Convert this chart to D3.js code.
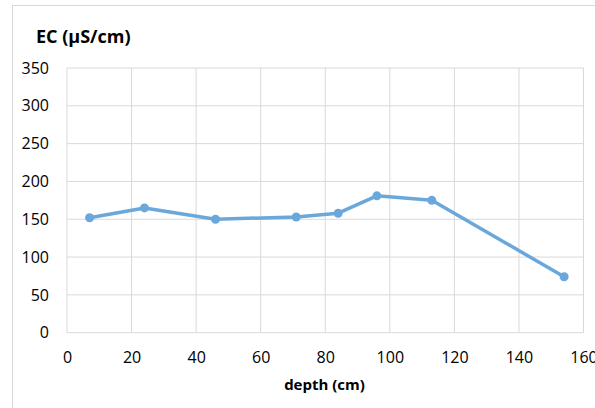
<!DOCTYPE html>
<html><head><meta charset="utf-8">
<script src="https://cdn.jsdelivr.net/npm/d3@7"></script>
<style>body{margin:0;background:#fff}svg{display:block}text{font-family:"Open Sans",Lato,sans-serif}</style>
</head><body><svg id="c" width="595" height="408"></svg>
<script>
const depth = [7, 24, 46, 71, 84, 96, 113, 154];
const ec = [152, 165, 150, 153, 158, 181, 175, 74];
const xTicks = [0, 20, 40, 60, 80, 100, 120, 140, 160];
const yTicks = [0, 50, 100, 150, 200, 250, 300, 350];

const svg = d3.select("#c");
const L = 67, R = 583.5, T = 68, B = 332.7;
const x = d3.scaleLinear().domain([0, 160]).range([L, R]);
const y = d3.scaleLinear().domain([0, 350]).range([B, T]);

svg.append("rect").attr("x", 12.5).attr("y", 5.5).attr("width", 600).attr("height", 420)
  .attr("fill", "#fff").attr("stroke", "#d9d9d9").attr("stroke-width", 1);

const grid = svg.append("g").attr("stroke", "#d9d9d9").attr("stroke-width", 1);
grid.selectAll("line.h").data(yTicks).join("line").attr("class","h")
  .attr("x1", L).attr("x2", R).attr("y1", d => y(d)).attr("y2", d => y(d));
grid.selectAll("line.v").data(xTicks).join("line").attr("class","v")
  .attr("y1", T).attr("y2", B).attr("x1", d => x(d)).attr("x2", d => x(d));

const xa = svg.append("g").attr("transform", `translate(0,${B})`)
  .call(d3.axisBottom(x).tickValues(xTicks).tickSize(0).tickPadding(19));
xa.select(".domain").remove();
xa.selectAll("text").attr("font-size", 16).attr("fill", "#000").attr("font-family", '"Open Sans",sans-serif');

const ya = svg.append("g").attr("transform", `translate(${L},0)`)
  .call(d3.axisLeft(y).tickValues(yTicks).tickSize(0).tickPadding(18));
ya.select(".domain").remove();
ya.selectAll("text").attr("font-size", 16).attr("fill", "#000").attr("font-family", '"Open Sans",sans-serif');

const pts = depth.map((d, i) => [d, ec[i]]);
svg.append("path").datum(pts)
  .attr("fill", "none").attr("stroke", "#6aa8dc").attr("stroke-width", 3.5)
  .attr("stroke-linejoin", "round")
  .attr("d", d3.line().x(d => x(d[0])).y(d => y(d[1])));
svg.selectAll("circle.p").data(pts).join("circle").attr("class","p")
  .attr("cx", d => x(d[0])).attr("cy", d => y(d[1])).attr("r", 4.5).attr("fill", "#6aa8dc");

svg.append("text").attr("x", 36).attr("y", 43).attr("font-size", 18).attr("font-weight", "bold")
  .attr("fill", "#000").text("EC (µS/cm)");
svg.append("text").attr("x", 324.5).attr("y", 390).attr("text-anchor", "middle")
  .attr("font-size", 15).attr("font-weight", "bold").attr("fill", "#000").text("depth (cm)");
</script></body></html>
